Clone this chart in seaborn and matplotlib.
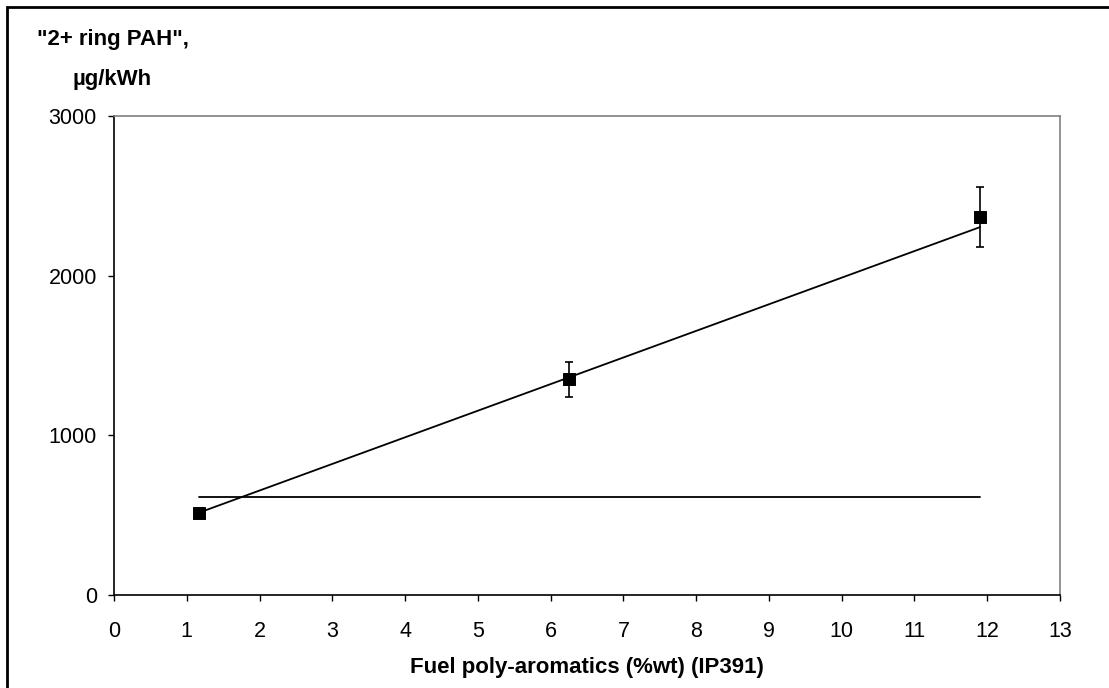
import numpy as np
import pandas as pd
import matplotlib
matplotlib.use("Agg")
import matplotlib.pyplot as plt
from matplotlib.patches import Rectangle
import seaborn as sns

# data
fuel_pah = [1.17, 6.25, 11.9]
emission = [513, 1352, 2367]
err = [30, 110, 190]

# trend line ends and flat reference line
trend_x = [1.17, 11.9]
trend_y = [516, 2304]
flat_x = [1.17, 11.9]
flat_y = [614, 614]

pts = pd.DataFrame({"x": fuel_pah, "y": emission})
trend = pd.DataFrame({"x": trend_x, "y": trend_y})
flat = pd.DataFrame({"x": flat_x, "y": flat_y})

sns.set_style("white")
plt.rcParams["font.family"] = ["Liberation Sans", "DejaVu Sans"]
plt.rcParams["text.color"] = "black"
plt.rcParams["xtick.color"] = "black"
plt.rcParams["ytick.color"] = "black"
plt.rcParams["axes.labelcolor"] = "black"

fig = plt.figure(figsize=(11.09, 6.88), dpi=100)
ax = fig.add_axes([114 / 1109, 93 / 688, 946 / 1109, 479 / 688])

sns.lineplot(data=trend, x="x", y="y", color="black", linewidth=1.3, ax=ax)
sns.lineplot(data=flat, x="x", y="y", color="black", linewidth=1.3, ax=ax)
ax.errorbar(fuel_pah, emission, yerr=err, fmt="none", ecolor="black",
            elinewidth=1.2, capsize=3, capthick=1.2, zorder=3)
sns.scatterplot(data=pts, x="x", y="y", marker="s", s=75, color="black",
                edgecolor="black", zorder=4, ax=ax)

ax.set_xlim(0, 13)
ax.set_ylim(0, 3000)
ax.set_xticks(range(0, 14))
ax.set_yticks([0, 1000, 2000, 3000])
ax.tick_params(axis="both", direction="out", length=4.3, width=1, color="black",
               labelsize=15.5, labelcolor="black", bottom=True, left=True)
ax.tick_params(axis="x", pad=14.5)
ax.tick_params(axis="y", pad=8)
ax.set_xlabel("Fuel poly-aromatics (%wt) (IP391)", fontsize=16, fontweight="bold",
              labelpad=10.5, color="black")
ax.set_ylabel("")

for side in ["left", "bottom"]:
    ax.spines[side].set_color("black")
    ax.spines[side].set_linewidth(1.2)
for side in ["top", "right"]:
    ax.spines[side].set_color("#808080")
    ax.spines[side].set_linewidth(1.2)

fig.text(37 / 1109, 1 - 39 / 688, '"2+ ring PAH",', fontsize=16, fontweight="bold",
         ha="left", va="center")
fig.text(112 / 1109, 1 - 79 / 688, "\u00b5g/kWh", fontsize=16, fontweight="bold",
         ha="center", va="center")

# outer frame round the whole chart
fig.patches.append(Rectangle((7 / 1109, -0.05), 1.2, 1 - 7 / 688 + 0.05,
                             transform=fig.transFigure, fill=False,
                             edgecolor="black", linewidth=2))

fig.savefig("out.png", dpi=100)
